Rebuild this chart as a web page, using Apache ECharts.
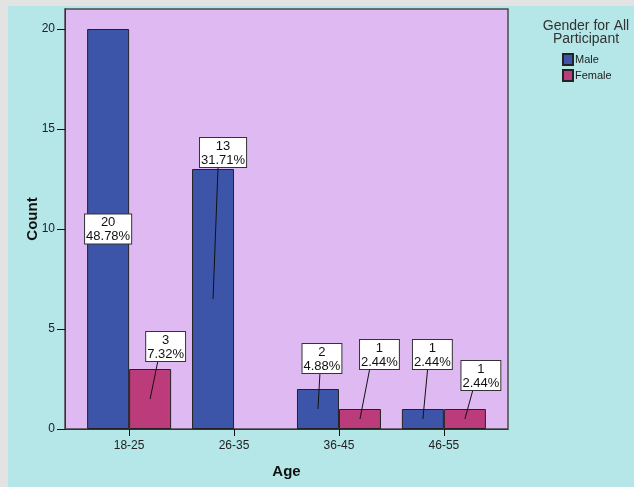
<!DOCTYPE html>
<html>
<head>
<meta charset="utf-8">
<script src="https://cdn.jsdelivr.net/npm/echarts@6/dist/echarts.min.js"></script>
<style>
  html, body { margin: 0; padding: 0; background: #e3e3e3; width: 634px; height: 487px; overflow: hidden; }
  #chart { position: absolute; left: 8px; top: 6px; width: 626px; height: 481px; background: #b5e6e8; }
</style>
</head>
<body>
<div id="chart"></div>
<script>
// ---- data ----
const ageGroups = ['18-25', '26-35', '36-45', '46-55'];
const maleCounts = [20, 13, 2, 1];
const femaleCounts = [3, 0, 1, 1];
const yTicks = [0, 5, 10, 15, 20];

// ---- label placement (style only) ----
const maleLabelDx = [0, 10, 4, 9.5];
const maleLabelGap = [null, 2, 16, 40];     // null = centered inside bar
const femaleLabelDx = [15.5, 0, 19.5, 16];
const femaleLabelGap = [8, 0, 40, 19];

const total = maleCounts.concat(femaleCounts).reduce((a, b) => a + b, 0);
const pct = v => (v / total * 100).toFixed(2) + '%';

const BAR_W = 42;
const maleColor = '#3c55a8';
const femaleColor = '#bc3b7b';
const FONT = 'Arial, "Liberation Sans", sans-serif';

const labelItems = [];
ageGroups.forEach((g, i) => {
  if (maleCounts[i] > 0) labelItems.push([i, maleCounts[i], -1, maleLabelDx[i], maleLabelGap[i]]);
  if (femaleCounts[i] > 0) labelItems.push([i, femaleCounts[i], 1, femaleLabelDx[i], femaleLabelGap[i]]);
});

const chart = echarts.init(document.getElementById('chart'), null, { renderer: 'canvas' });

const option = {
  animation: false,
  backgroundColor: '#b5e6e8',
  graphic: [{
    type: 'text',
    x: 578, y: 14,
    style: {
      text: 'Gender for All\nParticipant',
      align: 'center',
      font: '14px ' + FONT,
      fill: '#333',
      lineHeight: 13
    }
  }],
  legend: {
    data: ['Male', 'Female'],
    orient: 'vertical',
    left: 554, top: 47,
    padding: 0,
    icon: 'rect',
    itemWidth: 10, itemHeight: 11,
    itemGap: 3,
    textStyle: { fontFamily: FONT, fontSize: 11, color: '#222', padding: [0, 0, 0, -3] }
  },
  grid: {
    left: 57, top: 3, right: 126, bottom: 58,
    show: true,
    backgroundColor: '#dfbaf2',
    borderColor: '#4a4a4a',
    borderWidth: 1.5
  },
  xAxis: {
    type: 'value',
    min: -0.611, max: 3.611,
    name: 'Age',
    nameLocation: 'middle',
    nameGap: 35,
    nameMoveOverlap: false,
    nameTextStyle: { fontFamily: FONT, fontSize: 15, fontWeight: 'bold', color: '#111' },
    axisLine: { show: true, onZero: false, lineStyle: { color: '#333', width: 1 } },
    axisTick: { show: true, length: 7, customValues: [0, 1, 2, 3], lineStyle: { color: '#111' } },
    axisLabel: {
      customValues: [0, 1, 2, 3],
      formatter: v => ageGroups[Math.round(v)],
      fontFamily: FONT, fontSize: 12, color: '#222', margin: 11
    },
    splitLine: { show: false }
  },
  yAxis: {
    type: 'value',
    min: 0, max: 21,
    name: 'Count',
    nameLocation: 'middle',
    nameGap: 25,
    nameMoveOverlap: false,
    nameTextStyle: { fontFamily: FONT, fontSize: 15, fontWeight: 'bold', color: '#111' },
    axisLine: { show: true, onZero: false, lineStyle: { color: '#333', width: 1 } },
    axisTick: { show: true, length: 8, customValues: yTicks, lineStyle: { color: '#111' } },
    axisLabel: {
      customValues: yTicks,
      fontFamily: FONT, fontSize: 12, color: '#222', margin: 10
    },
    splitLine: { show: false }
  },
  series: [
    {
      name: 'Male', type: 'bar',
      data: maleCounts.map((v, i) => [i, v]),
      barWidth: BAR_W, barGap: '0%',
      itemStyle: { color: maleColor, borderColor: '#222', borderWidth: 1 }
    },
    {
      name: 'Female', type: 'bar',
      data: femaleCounts.map((v, i) => [i, v === 0 ? '-' : v]),
      barWidth: BAR_W, barGap: '0%',
      itemStyle: { color: femaleColor, borderColor: '#222', borderWidth: 1 }
    },
    {
      name: 'labels', type: 'custom',
      z: 10,
      data: labelItems,
      renderItem: (params, api) => {
        const i = api.value(0), v = api.value(1), side = api.value(2), dx = api.value(3);
        const gapRaw = labelItems[params.dataIndex][4];
        const base = api.coord([i, 0]);
        const top = api.coord([i, v]);
        const mid = api.coord([i, v / 2]);
        const cx = base[0] + side * BAR_W / 2;
        const text = v + '\n' + pct(v);
        const textStyle = {
          text: text,
          font: '13px ' + FONT,
          fill: '#111',
          lineHeight: 14,
          align: 'center',
          backgroundColor: '#fff',
          borderColor: '#333',
          borderWidth: 1,
          padding: [1, 1, 0, 1]
        };
        if (gapRaw === null || gapRaw === undefined) {
          textStyle.verticalAlign = 'middle';
          return { type: 'text', x: cx + dx, y: mid[1], style: textStyle };
        }
        textStyle.verticalAlign = 'bottom';
        const boxBottom = top[1] - gapRaw;
        return {
          type: 'group',
          children: [
            { type: 'line', shape: { x1: cx + dx / 2, y1: boxBottom, x2: cx, y2: mid[1] }, style: { stroke: '#111', lineWidth: 1 } },
            { type: 'text', x: cx + dx, y: boxBottom, style: textStyle }
          ]
        };
      }
    }
  ]
};
chart.setOption(option);
</script>
</body>
</html>
